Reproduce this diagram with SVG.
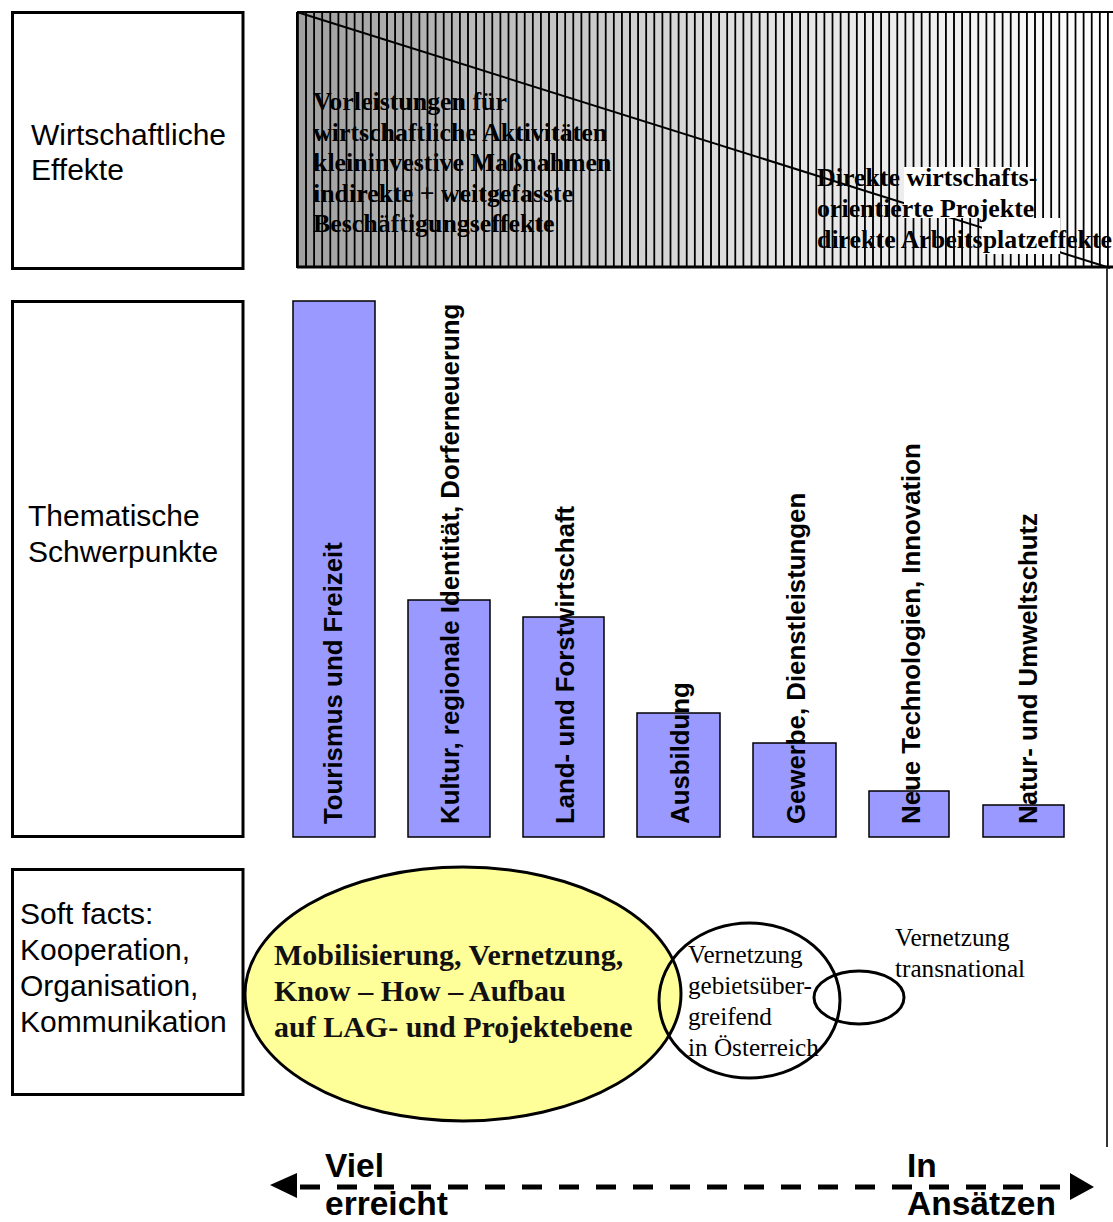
<svg xmlns="http://www.w3.org/2000/svg" width="1113" height="1222" viewBox="0 0 1113 1222">
<style>
.box{fill:#fff;stroke:#000;stroke-width:3}
.bar{fill:#9999FF;stroke:#000;stroke-width:1.5}
.lbl{font-family:"Liberation Sans",Arial,sans-serif;font-size:30px;fill:#000}
.vt{font-family:"Liberation Sans",Arial,sans-serif;font-size:25.8px;font-weight:bold;fill:#000}
.tb{font-family:"Liberation Serif","Times New Roman",serif;font-size:25.9px;font-weight:bold;fill:#000}
.tr{font-family:"Liberation Serif","Times New Roman",serif;font-size:25.2px;fill:#000}
.big{font-family:"Liberation Serif","Times New Roman",serif;font-size:30px;font-weight:bold;fill:#111}
.ax{font-family:"Liberation Sans",Arial,sans-serif;font-size:33.5px;font-weight:bold;fill:#000}
</style>
<defs>
<linearGradient id="grad" x1="0" y1="0" x2="1" y2="0">
<stop offset="0" stop-color="#a0a0a0"/>
<stop offset="0.55" stop-color="#e0e0e0"/>
<stop offset="1" stop-color="#ffffff"/>
</linearGradient>
<pattern id="hatch" patternUnits="userSpaceOnUse" x="297" y="0" width="8.1" height="20">
<rect x="0" y="0" width="1.8" height="20" fill="#000"/>
</pattern>
</defs>
<rect width="1113" height="1222" fill="#fff"/>

<g id="effects-band">
<rect x="297" y="12" width="818" height="256" fill="url(#grad)"/>
<rect x="297" y="12" width="818" height="256" fill="url(#hatch)"/>
<line x1="297" y1="12" x2="1113" y2="12" stroke="#000" stroke-width="2"/>
<line x1="297" y1="12" x2="297" y2="268" stroke="#000" stroke-width="2"/>
<line x1="297" y1="267" x2="1113" y2="267" stroke="#000" stroke-width="3"/>
<line x1="297" y1="12" x2="1110" y2="268" stroke="#000" stroke-width="2"/>
<rect x="904" y="167" width="129" height="51" fill="#fff"/>
<rect x="982" y="218" width="78" height="36" fill="#fff"/>
<text class="tb"><tspan x="313" y="110">Vorleistungen für</tspan><tspan x="313" y="140.5">wirtschaftliche Aktivitäten</tspan><tspan x="313" y="171">kleininvestive Maßnahmen</tspan><tspan x="313" y="201.5">indirekte + weitgefasste</tspan><tspan x="313" y="232">Beschäftigungseffekte</tspan></text>
<text class="tb"><tspan x="817" y="186">Direkte wirtschafts-</tspan><tspan x="817" y="216.5">orientierte Projekte</tspan><tspan x="817" y="248">direkte Arbeitsplatzeffekte</tspan></text>
</g>

<g id="label-wirtschaft">
<rect class="box" x="12.5" y="12.5" width="230.5" height="256"/>
<text class="lbl"><tspan x="31" y="145">Wirtschaftliche</tspan><tspan x="31" y="180">Effekte</tspan></text>
</g>
<g id="label-thematisch">
<rect class="box" x="12.5" y="301.5" width="230.5" height="535"/>
<text class="lbl"><tspan x="28" y="526">Thematische</tspan><tspan x="28" y="562">Schwerpunkte</tspan></text>
</g>
<g id="label-soft">
<rect class="box" x="12.5" y="869.5" width="230.5" height="225"/>
<text class="lbl"><tspan x="20" y="924">Soft facts:</tspan><tspan x="20" y="960">Kooperation,</tspan><tspan x="20" y="996">Organisation,</tspan><tspan x="20" y="1032">Kommunikation</tspan></text>
</g>

<g id="bar-tourismus">
<rect class="bar" x="293" y="301" width="82" height="536"/>
<text class="vt" transform="translate(342,824) rotate(-90)">Tourismus und Freizeit</text>
</g>
<g id="bar-kultur">
<rect class="bar" x="408" y="600" width="82" height="237"/>
<text class="vt" transform="translate(459,824) rotate(-90)">Kultur, regionale Identität, Dorferneuerung</text>
</g>
<g id="bar-land">
<rect class="bar" x="523" y="617" width="81" height="220"/>
<text class="vt" transform="translate(574,824) rotate(-90)">Land- und Forstwirtschaft</text>
</g>
<g id="bar-ausbildung">
<rect class="bar" x="637" y="713" width="83" height="124"/>
<text class="vt" transform="translate(689,824) rotate(-90)">Ausbildung</text>
</g>
<g id="bar-gewerbe">
<rect class="bar" x="753" y="743" width="83" height="94"/>
<text class="vt" transform="translate(805,824) rotate(-90)">Gewerbe, Dienstleistungen</text>
</g>
<g id="bar-technologien">
<rect class="bar" x="869" y="791" width="80" height="46"/>
<text class="vt" transform="translate(920,824) rotate(-90)">Neue Technologien, Innovation</text>
</g>
<g id="bar-natur">
<rect class="bar" x="983" y="805" width="81" height="32"/>
<text class="vt" transform="translate(1037,824) rotate(-90)">Natur- und Umweltschutz</text>
</g>

<g id="ellipse-mobilisierung">
<ellipse cx="463" cy="994" rx="218" ry="127" fill="#FFFF99" stroke="#000" stroke-width="3"/>
<text class="big"><tspan x="274" y="965">Mobilisierung, Vernetzung,</tspan><tspan x="274" y="1001">Know – How – Aufbau</tspan><tspan x="274" y="1037">auf LAG- und Projektebene</tspan></text>
</g>
<g id="ellipse-oesterreich">
<ellipse cx="749.5" cy="1000.5" rx="90.5" ry="77.5" fill="none" stroke="#000" stroke-width="3"/>
<text class="tr"><tspan x="688" y="963">Vernetzung</tspan><tspan x="688" y="994">gebietsüber-</tspan><tspan x="688" y="1025">greifend</tspan><tspan x="688" y="1056">in Österreich</tspan></text>
</g>
<g id="ellipse-transnational">
<ellipse cx="859" cy="997.5" rx="45" ry="26.5" fill="none" stroke="#000" stroke-width="3"/>
<text class="tr"><tspan x="895" y="946">Vernetzung</tspan><tspan x="895" y="977">transnational</tspan></text>
</g>

<g id="connectors">
<line x1="1107" y1="268" x2="1107" y2="1147" stroke="#333" stroke-width="2"/>
<line x1="300" y1="1187" x2="1068" y2="1187" stroke="#000" stroke-width="5" stroke-dasharray="20 17"/>
<polygon points="270,1185 297,1173 297,1198" fill="#000"/>
<polygon points="1094,1187 1070,1173 1070,1200" fill="#000"/>
</g>
<g id="scale-labels">
<text class="ax"><tspan x="325" y="1177">Viel</tspan><tspan x="325" y="1215">erreicht</tspan></text>
<text class="ax"><tspan x="907" y="1177">In</tspan><tspan x="907" y="1215">Ansätzen</tspan></text>
</g>
</svg>
